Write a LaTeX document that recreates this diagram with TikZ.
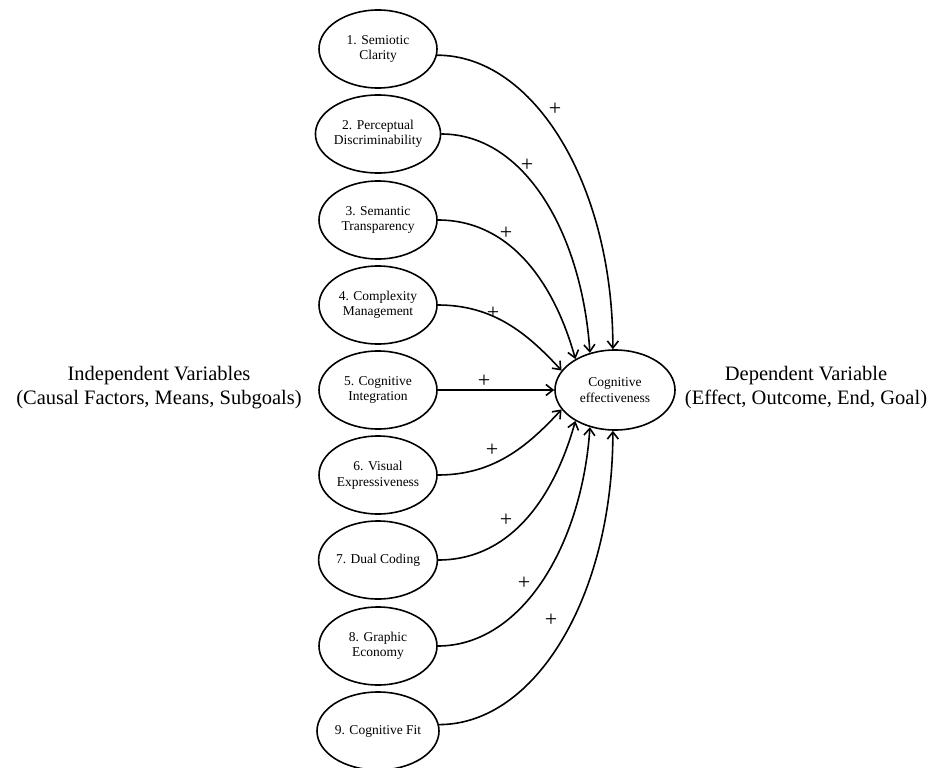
\documentclass[tikz,border=0pt]{standalone}
\usepackage{fontspec}
\setmainfont{Liberation Serif}
\usetikzlibrary{shapes.geometric,arrows.meta}

\begin{document}
\begin{tikzpicture}[x=1pt,y=-1pt,
  factor/.style={ellipse,draw,line width=1.6pt,minimum width=118pt,minimum height=78pt,
    inner sep=0pt,align=center,font=\fontsize{13.5}{15.5}\selectfont},
  outcome/.style={factor,minimum width=120pt,minimum height=80pt},
  heading/.style={align=center,font=\fontsize{20.5}{24}\selectfont},
  link/.style={line width=1.6pt,-{Straight Barb[length=7pt,width=11pt,line width=1.6pt]}},
  sign/.style={inner sep=0pt,font=\fontsize{22}{22}\selectfont}
]
\useasboundingbox (0,0) rectangle (934,768);

% the nine factors
\node[factor] (e1) at (378,49)  {1. Semiotic\\Clarity};
\node[factor] (e2) at (378,134) {2. Perceptual\\Discriminability};
\node[factor] (e3) at (378,220) {3. Semantic\\Transparency};
\node[factor] (e4) at (378,305) {4. Complexity\\Management};
\node[factor] (e5) at (378,390) {5. Cognitive\\Integration};
\node[factor] (e6) at (378,475) {6. Visual\\Expressiveness};
\node[factor] (e7) at (378,560) {7. Dual Coding};
\node[factor] (e8) at (378,646) {8. Graphic\\Economy};
\node[factor] (e9) at (378,731) {9. Cognitive Fit};

% the outcome
\node[outcome] (ce) at (615,390) {Cognitive\\effectiveness};

% side headings
\node[heading] (iv) at (159,388) {Independent Variables\\(Causal Factors, Means, Subgoals)};
\node[heading] (dv) at (806,388) {Dependent Variable\\(Effect, Outcome, End, Goal)};

% causal links
\draw[link] (e1.-6) .. controls +(97,0) and +(0,-164) .. (ce.93);
\draw[link] (e2.east) .. controls +(84,0) and +(-8,-118) .. (ce.124);
\draw[link] (e3.east) .. controls +(75,0) and +(-20,-72) .. (ce.142);
\draw[link] (e4.east) .. controls +(55,0) and +(-35,-38) .. (ce.160);
\draw[link] (e5.east) -- (ce.west);
\draw[link] (e6.east) .. controls +(55,0) and +(-35,38) .. (ce.200);
\draw[link] (e7.east) .. controls +(75,0) and +(-20,72) .. (ce.218);
\draw[link] (e8.east) .. controls +(84,0) and +(-8,118) .. (ce.236);
\draw[link] (e9.6) .. controls +(97,0) and +(0,164) .. (ce.267);

% signs of the links
\node[sign] (p1) at (555,109) {+};
\node[sign] (p2) at (527,165) {+};
\node[sign] (p3) at (506,233) {+};
\node[sign] (p4) at (493,313) {+};
\node[sign] (p5) at (484,381) {+};
\node[sign] (p6) at (492,450) {+};
\node[sign] (p7) at (506,520) {+};
\node[sign] (p8) at (524,583) {+};
\node[sign] (p9) at (551,620) {+};
\end{tikzpicture}
\end{document}
